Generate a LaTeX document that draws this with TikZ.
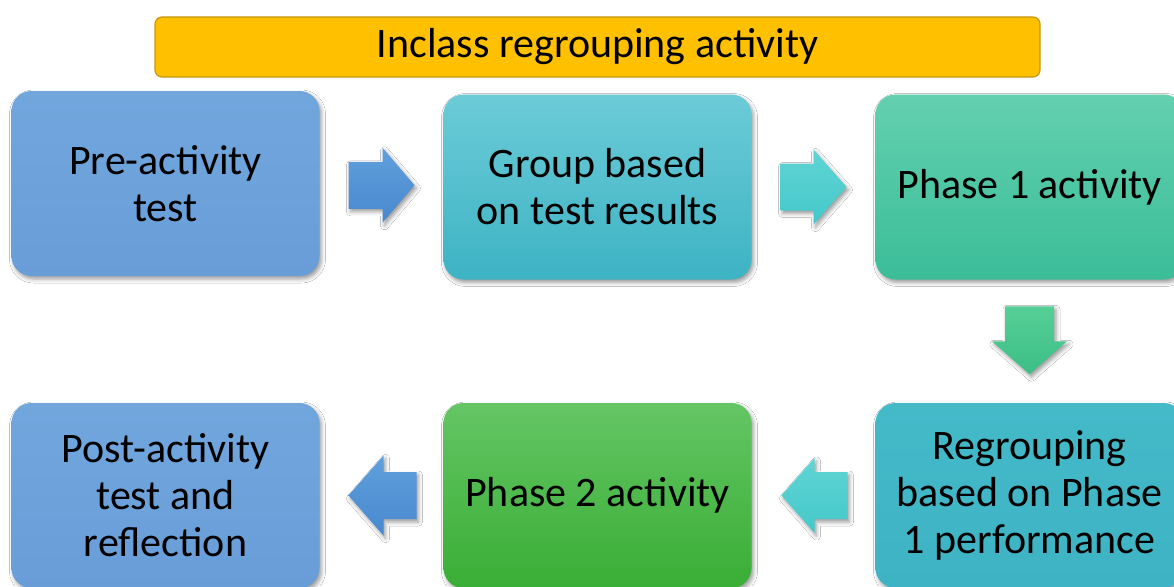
\documentclass[tikz,border=0pt]{standalone}
\usepackage{fontspec}
\setmainfont{Carlito}
\usetikzlibrary{shadows.blur,calc}

% palette
\definecolor{blueTop}{RGB}{113,166,221}
\definecolor{blueBot}{RGB}{104,157,216}
\definecolor{tealTop}{RGB}{108,203,215}
\definecolor{tealBot}{RGB}{61,179,196}
\definecolor{mintTop}{RGB}{99,208,175}
\definecolor{mintBot}{RGB}{59,189,152}
\definecolor{greenTop}{RGB}{100,197,100}
\definecolor{greenBot}{RGB}{57,174,53}
\definecolor{regTop}{RGB}{68,185,200}
\definecolor{regBot}{RGB}{62,179,196}
\definecolor{gold}{RGB}{255,192,0}
\definecolor{goldEdge}{RGB}{196,152,20}
\definecolor{arBlueTop}{RGB}{96,160,220}
\definecolor{arBlueBot}{RGB}{72,136,206}
\definecolor{arTealTop}{RGB}{96,212,212}
\definecolor{arTealBot}{RGB}{68,200,202}
\definecolor{arMintTop}{RGB}{86,207,150}
\definecolor{arMintBot}{RGB}{60,190,134}

\begin{document}
\begin{tikzpicture}[x=1pt,y=-1pt,
  softshadow/.style={blur shadow={shadow xshift=2pt,shadow yshift=-3pt,
      shadow blur radius=4pt,shadow opacity=40}},
  stage/.style={rounded corners=20pt,minimum width=308pt,minimum height=185pt,
      inner sep=0pt,align=center,font=\fontsize{42}{47}\selectfont,softshadow},
  flow/.style={softshadow},
]
\useasboundingbox (0,0) rectangle (1174,586);
\fill[white] (0,0) rectangle (1174,586);
\clip (0,0) rectangle (1174,586);

% title bar
\node[draw=goldEdge,line width=1.2pt,fill=gold,rounded corners=7pt,
      minimum width=885pt,minimum height=60pt,inner sep=0pt,
      font=\fontsize{42}{48}\selectfont] (title) at (597.5,47) {Inclass regrouping activity};

% top row
\node[stage,top color=blueTop,bottom color=blueBot] (pre) at (165.5,183.5) {Pre-activity\\test};
\node[stage,top color=tealTop,bottom color=tealBot] (grp) at (597.5,187) {Group based\\on test results};
\node[stage,top color=mintTop,bottom color=mintBot] (ph1) at (1029.5,187) {Phase 1 activity};

% bottom row
\node[stage,top color=blueTop,bottom color=blueBot] (post) at (165.5,495.5) {Post-activity\\test and\\reflection};
\node[stage,top color=greenTop,bottom color=greenBot] (ph2) at (597.5,495.5) {Phase 2 activity};
\node[stage,top color=regTop,bottom color=regBot] (reg) at (1029.5,495.5) {Regrouping\\based on Phase\\1 performance};

% anchor points of the block arrows, halfway between the stages
\coordinate (a1) at ($(pre.east)!0.5!(grp.west)$);
\coordinate (a2) at ($(grp.east)!0.5!(ph1.west)$);
\coordinate (a3) at ($(ph1.south)!0.5!(reg.north)$);
\coordinate (a4) at ($(ph2.east)!0.5!(reg.west)$);
\coordinate (a5) at ($(post.east)!0.5!(ph2.west)$);

% right-pointing arrows
\path[flow,top color=arBlueTop,bottom color=arBlueBot,shift={(a1)}]
  (-33,-23.5) -- (1,-23.5) -- (1,-37.5) -- (33,0) -- (1,37.5) -- (1,23.5) -- (-33,23.5) -- cycle;
\path[flow,top color=arTealTop,bottom color=arTealBot,shift={(a2)}]
  (-33,-23.5) -- (0,-23.5) -- (0,-37.5) -- (33,0) -- (0,37.5) -- (0,23.5) -- (-33,23.5) -- cycle;
% downward arrow
\path[flow,top color=arMintTop,bottom color=arMintBot,shift={(a3)}]
  (-24.5,-35) -- (24.5,-35) -- (24.5,0) -- (37.5,0) -- (0,33) -- (-37.5,0) -- (-24.5,0) -- cycle;
% left-pointing arrows
\path[flow,top color=arTealTop,bottom color=arTealBot,shift={(a4)}]
  (34,-23.5) -- (1,-23.5) -- (1,-37.5) -- (-32,0) -- (1,37.5) -- (1,23.5) -- (34,23.5) -- cycle;
\path[flow,top color=arBlueTop,bottom color=arBlueBot,shift={(a5)}]
  (35,-23.5) -- (2,-23.5) -- (2,-40) -- (-33,0) -- (2,40) -- (2,23.5) -- (35,23.5) -- cycle;
\end{tikzpicture}
\end{document}
